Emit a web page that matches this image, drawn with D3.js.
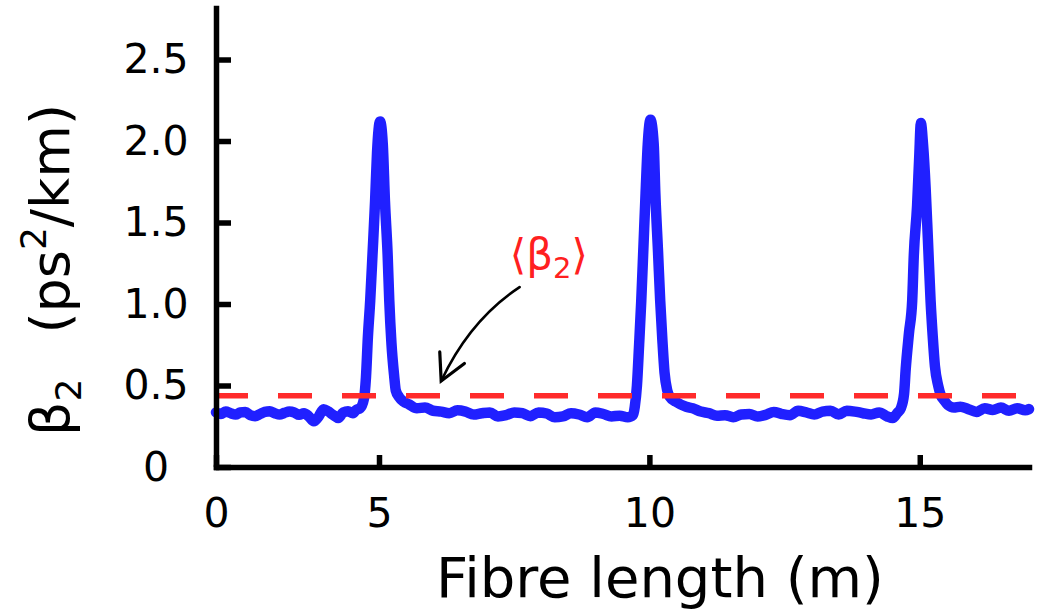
<!DOCTYPE html>
<html>
<head>
<meta charset="utf-8">
<script src="https://cdn.jsdelivr.net/npm/d3@7"></script>
<style>
  html, body { margin: 0; padding: 0; background: #fff; }
  svg { display: block; font-family: "DejaVu Sans", Verdana, sans-serif; }
</style>
</head>
<body>
<svg id="chart" width="1039" height="614"></svg>
<script>
// Position along the fibre (m)
const fibreLength = [
  0, 0.15, 0.3, 0.45, 0.6, 0.75, 0.9, 1.05, 1.2, 1.35, 1.5, 1.65, 1.8, 1.95, 2.1,
  2.25, 2.4, 2.55, 2.7, 2.85, 3.0, 3.15, 3.3, 3.45, 3.6, 3.75, 3.9, 4.05, 4.2, 4.3,
  4.42, 4.54, 4.6, 4.66, 4.73, 4.8, 4.88, 4.94, 5.02, 5.07, 5.11, 5.16, 5.19, 5.23,
  5.28, 5.31, 5.37, 5.46,
  5.55, 5.7, 5.85, 6.0, 6.15, 6.3, 6.45, 6.6, 6.75, 6.9, 7.05, 7.2, 7.35, 7.5,
  7.65, 7.8, 7.95, 8.1, 8.25, 8.4, 8.55, 8.7, 8.85, 9.0, 9.15, 9.3, 9.45,
  9.6, 9.7, 9.73, 9.77, 9.81, 9.85, 9.89, 9.93, 9.97, 10.02, 10.08, 10.11, 10.16,
  10.2, 10.24, 10.28, 10.33, 10.38, 10.49, 10.68,
  10.8, 10.95, 11.1, 11.25, 11.4, 11.55, 11.7, 11.85, 12.0, 12.15, 12.3, 12.45,
  12.6, 12.75, 12.9, 13.05, 13.2, 13.35, 13.5, 13.65, 13.8, 13.95, 14.1, 14.25,
  14.4, 14.5,
  14.58, 14.65, 14.71, 14.74, 14.8, 14.86, 14.89, 14.95, 14.99, 15.02, 15.06, 15.11,
  15.15, 15.2, 15.24, 15.28, 15.34, 15.39, 15.45, 15.52, 15.63,
  15.75, 15.9, 16.05, 16.2, 16.35, 16.5, 16.65, 16.8, 16.95, 17.02
];

// Group-velocity dispersion beta2 (ps^2/km) at each position
const beta2 = [
  0.335, 0.325, 0.34, 0.33, 0.322, 0.335, 0.338, 0.318, 0.312, 0.325, 0.338, 0.342, 0.33, 0.322, 0.332,
  0.34, 0.335, 0.32, 0.33, 0.31, 0.28, 0.31, 0.355, 0.34, 0.318, 0.30, 0.335, 0.342, 0.33, 0.35,
  0.36, 0.42, 0.55, 0.8, 1.02, 1.3, 1.63, 1.93, 2.12, 1.98, 1.63, 1.3, 1.02, 0.76,
  0.56, 0.47, 0.43, 0.40,
  0.385, 0.36, 0.365, 0.345, 0.34, 0.33, 0.348, 0.34, 0.322, 0.33, 0.335, 0.31, 0.318, 0.335,
  0.33, 0.312, 0.335, 0.328, 0.305, 0.31, 0.33, 0.322, 0.305, 0.335, 0.325, 0.31, 0.315,
  0.305, 0.32, 0.37, 0.5, 0.75, 1.02, 1.35, 1.68, 1.98, 2.13, 1.98, 1.68, 1.32,
  1.02, 0.78, 0.58, 0.47, 0.43, 0.40, 0.37,
  0.36, 0.34, 0.33, 0.315, 0.318, 0.305, 0.322, 0.325, 0.31, 0.32, 0.338, 0.325,
  0.318, 0.345, 0.335, 0.322, 0.34, 0.345, 0.322, 0.345, 0.34, 0.33, 0.322, 0.335,
  0.31, 0.30,
  0.33, 0.36, 0.45, 0.6, 0.82, 1.02, 1.3, 1.6, 1.9, 2.11, 1.98, 1.7,
  1.4, 1.02, 0.8, 0.62, 0.5, 0.44, 0.41, 0.38, 0.365,
  0.37, 0.355, 0.338, 0.36, 0.35, 0.365, 0.345, 0.36, 0.348, 0.355
];

// Average dispersion over the whole fibre (ps^2/km)
const meanBeta2 = 0.437;

const xTickValues = [0, 5, 10, 15];
const xTickLabels = ["0", "5", "10", "15"];
const yTickValues = [0, 0.5, 1.0, 1.5, 2.0, 2.5];
const yTickLabels = ["0", "0.5", "1.0", "1.5", "2.0", "2.5"];

// Annotation: label position and arrow path, in data units
const annotationLabel = { x: 8.14, y: 1.215 };
const annotationArrow = { start: [7.6, 1.104], control: [6.68, 0.902], end: [6.15, 0.528] };

const svg = d3.select("#chart");

const x = d3.scaleLinear().domain([0, 5, 17.02]).range([216, 379, 1029]);
const y = d3.scaleLinear().domain([0, 2.816]).range([467, 8]);

const data = fibreLength.map((d, i) => ({ x: d, y: beta2[i] }));

// Measured dispersion trace
svg.append("path")
  .datum(data)
  .attr("fill", "none")
  .attr("stroke", "#2020ff")
  .attr("stroke-width", 10.5)
  .attr("stroke-linejoin", "round")
  .attr("stroke-linecap", "round")
  .attr("d", d3.line().x(d => x(d.x)).y(d => y(d.y)).curve(d3.curveMonotoneX));

// Mean value, dashed
svg.append("line")
  .attr("x1", x(0)).attr("x2", x(17.02))
  .attr("y1", y(meanBeta2)).attr("y2", y(meanBeta2))
  .attr("stroke", "#ff2b2b")
  .attr("stroke-width", 5.5)
  .attr("stroke-dasharray", "34,30")
  .attr("stroke-dashoffset", 2);

// Axes
const axisStroke = 5.5;
const xAxis = svg.append("g")
  .attr("transform", `translate(0,${y(0)})`)
  .call(d3.axisBottom(x).tickValues(xTickValues)
    .tickFormat((d, i) => xTickLabels[i])
    .tickSizeInner(-12).tickSizeOuter(0).tickPadding(31));

const yAxis = svg.append("g")
  .attr("transform", `translate(${x(0)},0)`)
  .call(d3.axisLeft(y).tickValues(yTickValues)
    .tickFormat((d, i) => yTickLabels[i])
    .tickSizeInner(-15).tickSizeOuter(0));

[xAxis, yAxis].forEach(g => {
  g.select(".domain").attr("stroke", "#000").attr("stroke-width", axisStroke)
    .attr("stroke-linecap", "square");
  g.selectAll(".tick line").attr("stroke", "#000").attr("stroke-width", axisStroke);
  g.selectAll(".tick text").attr("fill", "#000")
    .attr("font-family", "DejaVu Sans, sans-serif").attr("font-size", 41);
});
yAxis.selectAll(".tick text").attr("text-anchor", "middle").attr("x", -60);

// Axis titles
svg.append("text")
  .attr("x", 660).attr("y", 597)
  .attr("text-anchor", "middle")
  .attr("font-size", 56)
  .attr("fill", "#000")
  .text("Fibre length (m)");

const yTitle = svg.append("text")
  .attr("transform", "translate(69,270) rotate(-90)")
  .attr("text-anchor", "middle")
  .attr("font-size", 54)
  .attr("fill", "#000");
yTitle.append("tspan").text("β");
yTitle.append("tspan").attr("font-size", 36).attr("dy", 12).text("2");
yTitle.append("tspan").attr("dy", -12).attr("dx", 45).text("(ps");
yTitle.append("tspan").attr("font-size", 36).attr("dy", -23).text("2");
yTitle.append("tspan").attr("dy", 23).text("/km)");

// Annotation for the mean value
const label = svg.append("text")
  .attr("x", x(annotationLabel.x)).attr("y", y(annotationLabel.y))
  .attr("text-anchor", "middle")
  .attr("font-size", 42)
  .attr("fill", "#ff2020");
label.append("tspan").text("⟨β");
label.append("tspan").attr("font-size", 29).attr("dy", 9).text("2");
label.append("tspan").attr("dy", -9).text("⟩");

const [sx, sy] = [x(annotationArrow.start[0]), y(annotationArrow.start[1])];
const [cx, cy] = [x(annotationArrow.control[0]), y(annotationArrow.control[1])];
const [ex, ey] = [x(annotationArrow.end[0]), y(annotationArrow.end[1])];
const arrowPath = d3.path();
arrowPath.moveTo(sx, sy);
arrowPath.quadraticCurveTo(cx, cy, ex, ey);
svg.append("path")
  .attr("d", arrowPath.toString())
  .attr("fill", "none").attr("stroke", "#000")
  .attr("stroke-width", 2.6).attr("stroke-linecap", "round");

// Open arrowhead aligned with the curve's end tangent
const back = Math.atan2(cy - ey, cx - ex);
const wing = 29, spread = 28 * Math.PI / 180;
const head = d3.path();
head.moveTo(ex + wing * Math.cos(back - spread), ey + wing * Math.sin(back - spread));
head.lineTo(ex, ey);
head.lineTo(ex + wing * Math.cos(back + spread), ey + wing * Math.sin(back + spread));
svg.append("path")
  .attr("d", head.toString())
  .attr("fill", "none").attr("stroke", "#000")
  .attr("stroke-width", 3.2).attr("stroke-linejoin", "miter").attr("stroke-linecap", "round");
</script>
</body>
</html>
